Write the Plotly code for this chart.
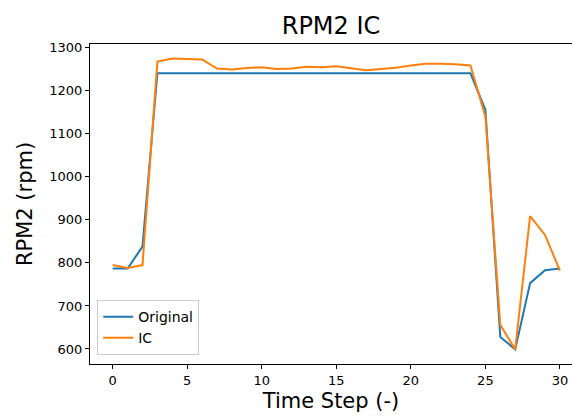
import plotly.graph_objects as go

time_step = list(range(31))
original = [787, 787, 838, 1241, 1241, 1241, 1241, 1241, 1241, 1241, 1241, 1241, 1241, 1241,
            1241, 1241, 1241, 1241, 1241, 1241, 1241, 1241, 1241, 1241, 1241, 1156, 628, 599,
            753, 783, 787]
ic = [795, 788, 795, 1268, 1275, 1274, 1273, 1252, 1250, 1253, 1255, 1251, 1252, 1256,
      1255, 1257, 1253, 1248, 1251, 1254, 1259, 1263, 1263, 1262, 1259, 1140, 656, 599,
      909, 865, 782]

font = "DejaVu Sans"
fig = go.Figure()
fig.add_trace(go.Scatter(x=time_step, y=original, mode="lines", name="Original",
                         line=dict(color="#1f77b4", width=2)))
fig.add_trace(go.Scatter(x=time_step, y=ic, mode="lines", name="IC",
                         line=dict(color="#ff7f0e", width=2)))

fig.update_layout(
    width=572, height=418,
    margin=dict(l=90, r=0, t=44, b=54),
    paper_bgcolor="white", plot_bgcolor="white",
    font=dict(family=font, color="black", size=13),
    title=dict(text="RPM2 IC", x=0.5, xref="paper", xanchor="center",
               y=1 - 26 / 418, yanchor="middle", font=dict(size=24, family=font)),
    showlegend=True,
    legend=dict(x=0.015, y=0.028, xanchor="left", yanchor="bottom",
                bgcolor="rgba(255,255,255,0.8)", bordercolor="#cccccc", borderwidth=1,
                font=dict(size=14, family=font), tracegroupgap=0, itemwidth=30),
)
fig.update_xaxes(range=[-1.52, 30.81], tickvals=[0, 5, 10, 15, 20, 25, 30],
                 showgrid=False, zeroline=False, showline=True, linecolor="black",
                 linewidth=1, mirror=True, ticks="outside", ticklen=4, tickcolor="black",
                 tickfont=dict(size=13),
                 title=dict(text="Time Step (-)", font=dict(size=21), standoff=6))
fig.update_yaxes(range=[565, 1309], tickvals=[600, 700, 800, 900, 1000, 1100, 1200, 1300],
                 showgrid=False, zeroline=False, showline=True, linecolor="black",
                 linewidth=1, mirror=False, ticks="outside", ticklen=4, tickcolor="black",
                 tickfont=dict(size=13),
                 title=dict(text="RPM2 (rpm)", font=dict(size=21), standoff=10))

fig.write_html("out.html")
